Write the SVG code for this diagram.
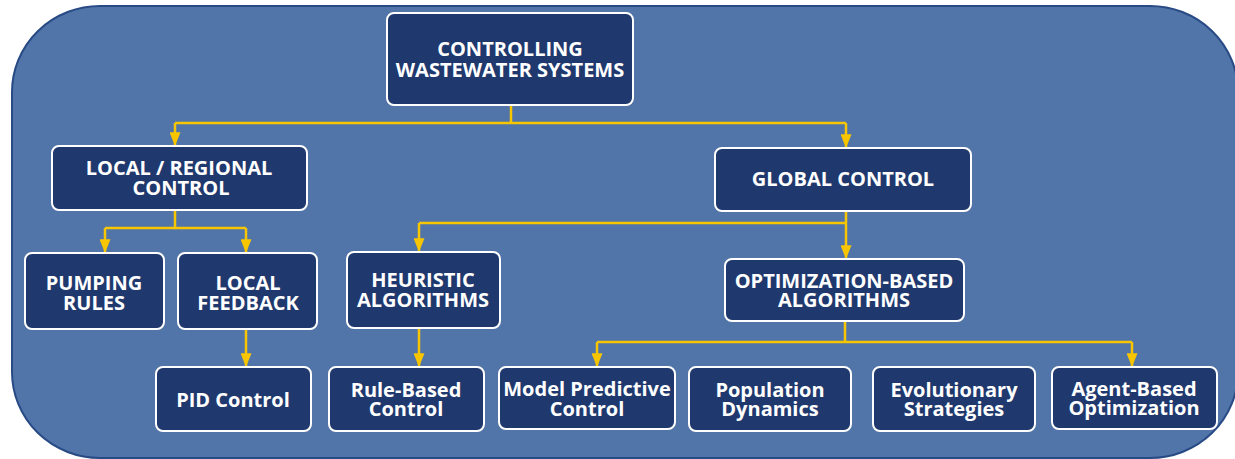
<svg xmlns="http://www.w3.org/2000/svg" width="1235" height="459" viewBox="0 0 1235 459">
<defs>
<style>
.bg{fill:#5174a9;stroke:#284a85;stroke-width:2}
.box{fill:#1f396e;stroke:#ffffff;stroke-width:2}
.t{font-family:"Open Sans","Liberation Sans",sans-serif;font-weight:700;font-size:20px;fill:#ffffff;text-anchor:middle}
.c{fill:none;stroke:#f7c600;stroke-width:2.5}
</style>
<marker id="ah" viewBox="0 0 10 8" refX="10" refY="4" markerWidth="5.5" markerHeight="4.4" orient="auto" markerUnits="strokeWidth">
<path d="M0,0 L10,4 L0,8 Z" fill="#f7c600"/>
</marker>
</defs>
<rect width="1235" height="459" fill="#ffffff"/>
<rect class="bg" x="12" y="6" width="1226" height="452" rx="88" ry="86"/>

<g id="connectors">
<path class="c" d="M511,106 V123"/>
<path class="c" d="M175,123 H846"/>
<path class="c" d="M175,123 V146" marker-end="url(#ah)"/>
<path class="c" d="M846,123 V148" marker-end="url(#ah)"/>
<path class="c" d="M175,210 V228 H246"/>
<path class="c" d="M105,228 H175"/>
<path class="c" d="M105,228 V253" marker-end="url(#ah)"/>
<path class="c" d="M246,228 V253" marker-end="url(#ah)"/>
<path class="c" d="M846,211 V223"/>
<path class="c" d="M419,223 H846"/>
<path class="c" d="M419,223 V252" marker-end="url(#ah)"/>
<path class="c" d="M846,223 V259" marker-end="url(#ah)"/>
<path class="c" d="M246,329 V367" marker-end="url(#ah)"/>
<path class="c" d="M419,328 V367" marker-end="url(#ah)"/>
<path class="c" d="M845,321 V342"/>
<path class="c" d="M597,342 H1132"/>
<path class="c" d="M597,342 V367" marker-end="url(#ah)"/>
<path class="c" d="M1132,342 V367" marker-end="url(#ah)"/>
</g>

<g id="root">
<rect class="box" x="387" y="13" width="246" height="92" rx="7"/>
<text class="t" x="510" y="56">CONTROLLING</text>
<text class="t" x="510" y="77">WASTEWATER SYSTEMS</text>
</g>
<g id="local-regional">
<rect class="box" x="52" y="146" width="255" height="64" rx="7"/>
<text class="t" x="179" y="175">LOCAL / REGIONAL</text>
<text class="t" x="181" y="195">CONTROL</text>
</g>
<g id="global">
<rect class="box" x="715" y="148" width="256" height="63" rx="7"/>
<text class="t" x="843" y="186">GLOBAL CONTROL</text>
</g>
<g id="pumping">
<rect class="box" x="25" y="253" width="139" height="76" rx="7"/>
<text class="t" x="94" y="290">PUMPING</text>
<text class="t" x="94" y="310">RULES</text>
</g>
<g id="local-feedback">
<rect class="box" x="178" y="253" width="139" height="76" rx="7"/>
<text class="t" x="248" y="290">LOCAL</text>
<text class="t" x="248" y="310">FEEDBACK</text>
</g>
<g id="heuristic">
<rect class="box" x="347" y="252" width="153" height="76" rx="7"/>
<text class="t" x="423" y="287">HEURISTIC</text>
<text class="t" x="423" y="307">ALGORITHMS</text>
</g>
<g id="optimization">
<rect class="box" x="725" y="259" width="239" height="62" rx="7"/>
<text class="t" x="844" y="288">OPTIMIZATION-BASED</text>
<text class="t" x="844" y="307">ALGORITHMS</text>
</g>
<g id="pid">
<rect class="box" x="156" y="367" width="155" height="64" rx="7"/>
<text class="t" x="233" y="407">PID Control</text>
</g>
<g id="rule-based">
<rect class="box" x="329" y="367" width="155" height="64" rx="7"/>
<text class="t" x="406" y="397">Rule-Based</text>
<text class="t" x="406" y="416">Control</text>
</g>
<g id="mpc">
<rect class="box" x="499" y="367" width="176" height="62" rx="7"/>
<text class="t" x="587" y="396">Model Predictive</text>
<text class="t" x="587" y="416">Control</text>
</g>
<g id="population">
<rect class="box" x="689" y="367" width="162" height="64" rx="7"/>
<text class="t" x="770" y="397">Population</text>
<text class="t" x="770" y="416">Dynamics</text>
</g>
<g id="evolutionary">
<rect class="box" x="873" y="367" width="162" height="64" rx="7"/>
<text class="t" x="954" y="397">Evolutionary</text>
<text class="t" x="954" y="416">Strategies</text>
</g>
<g id="agent-based">
<rect class="box" x="1052" y="367" width="165" height="62" rx="7"/>
<text class="t" x="1134" y="396">Agent-Based</text>
<text class="t" x="1134" y="415">Optimization</text>
</g>
</svg>
